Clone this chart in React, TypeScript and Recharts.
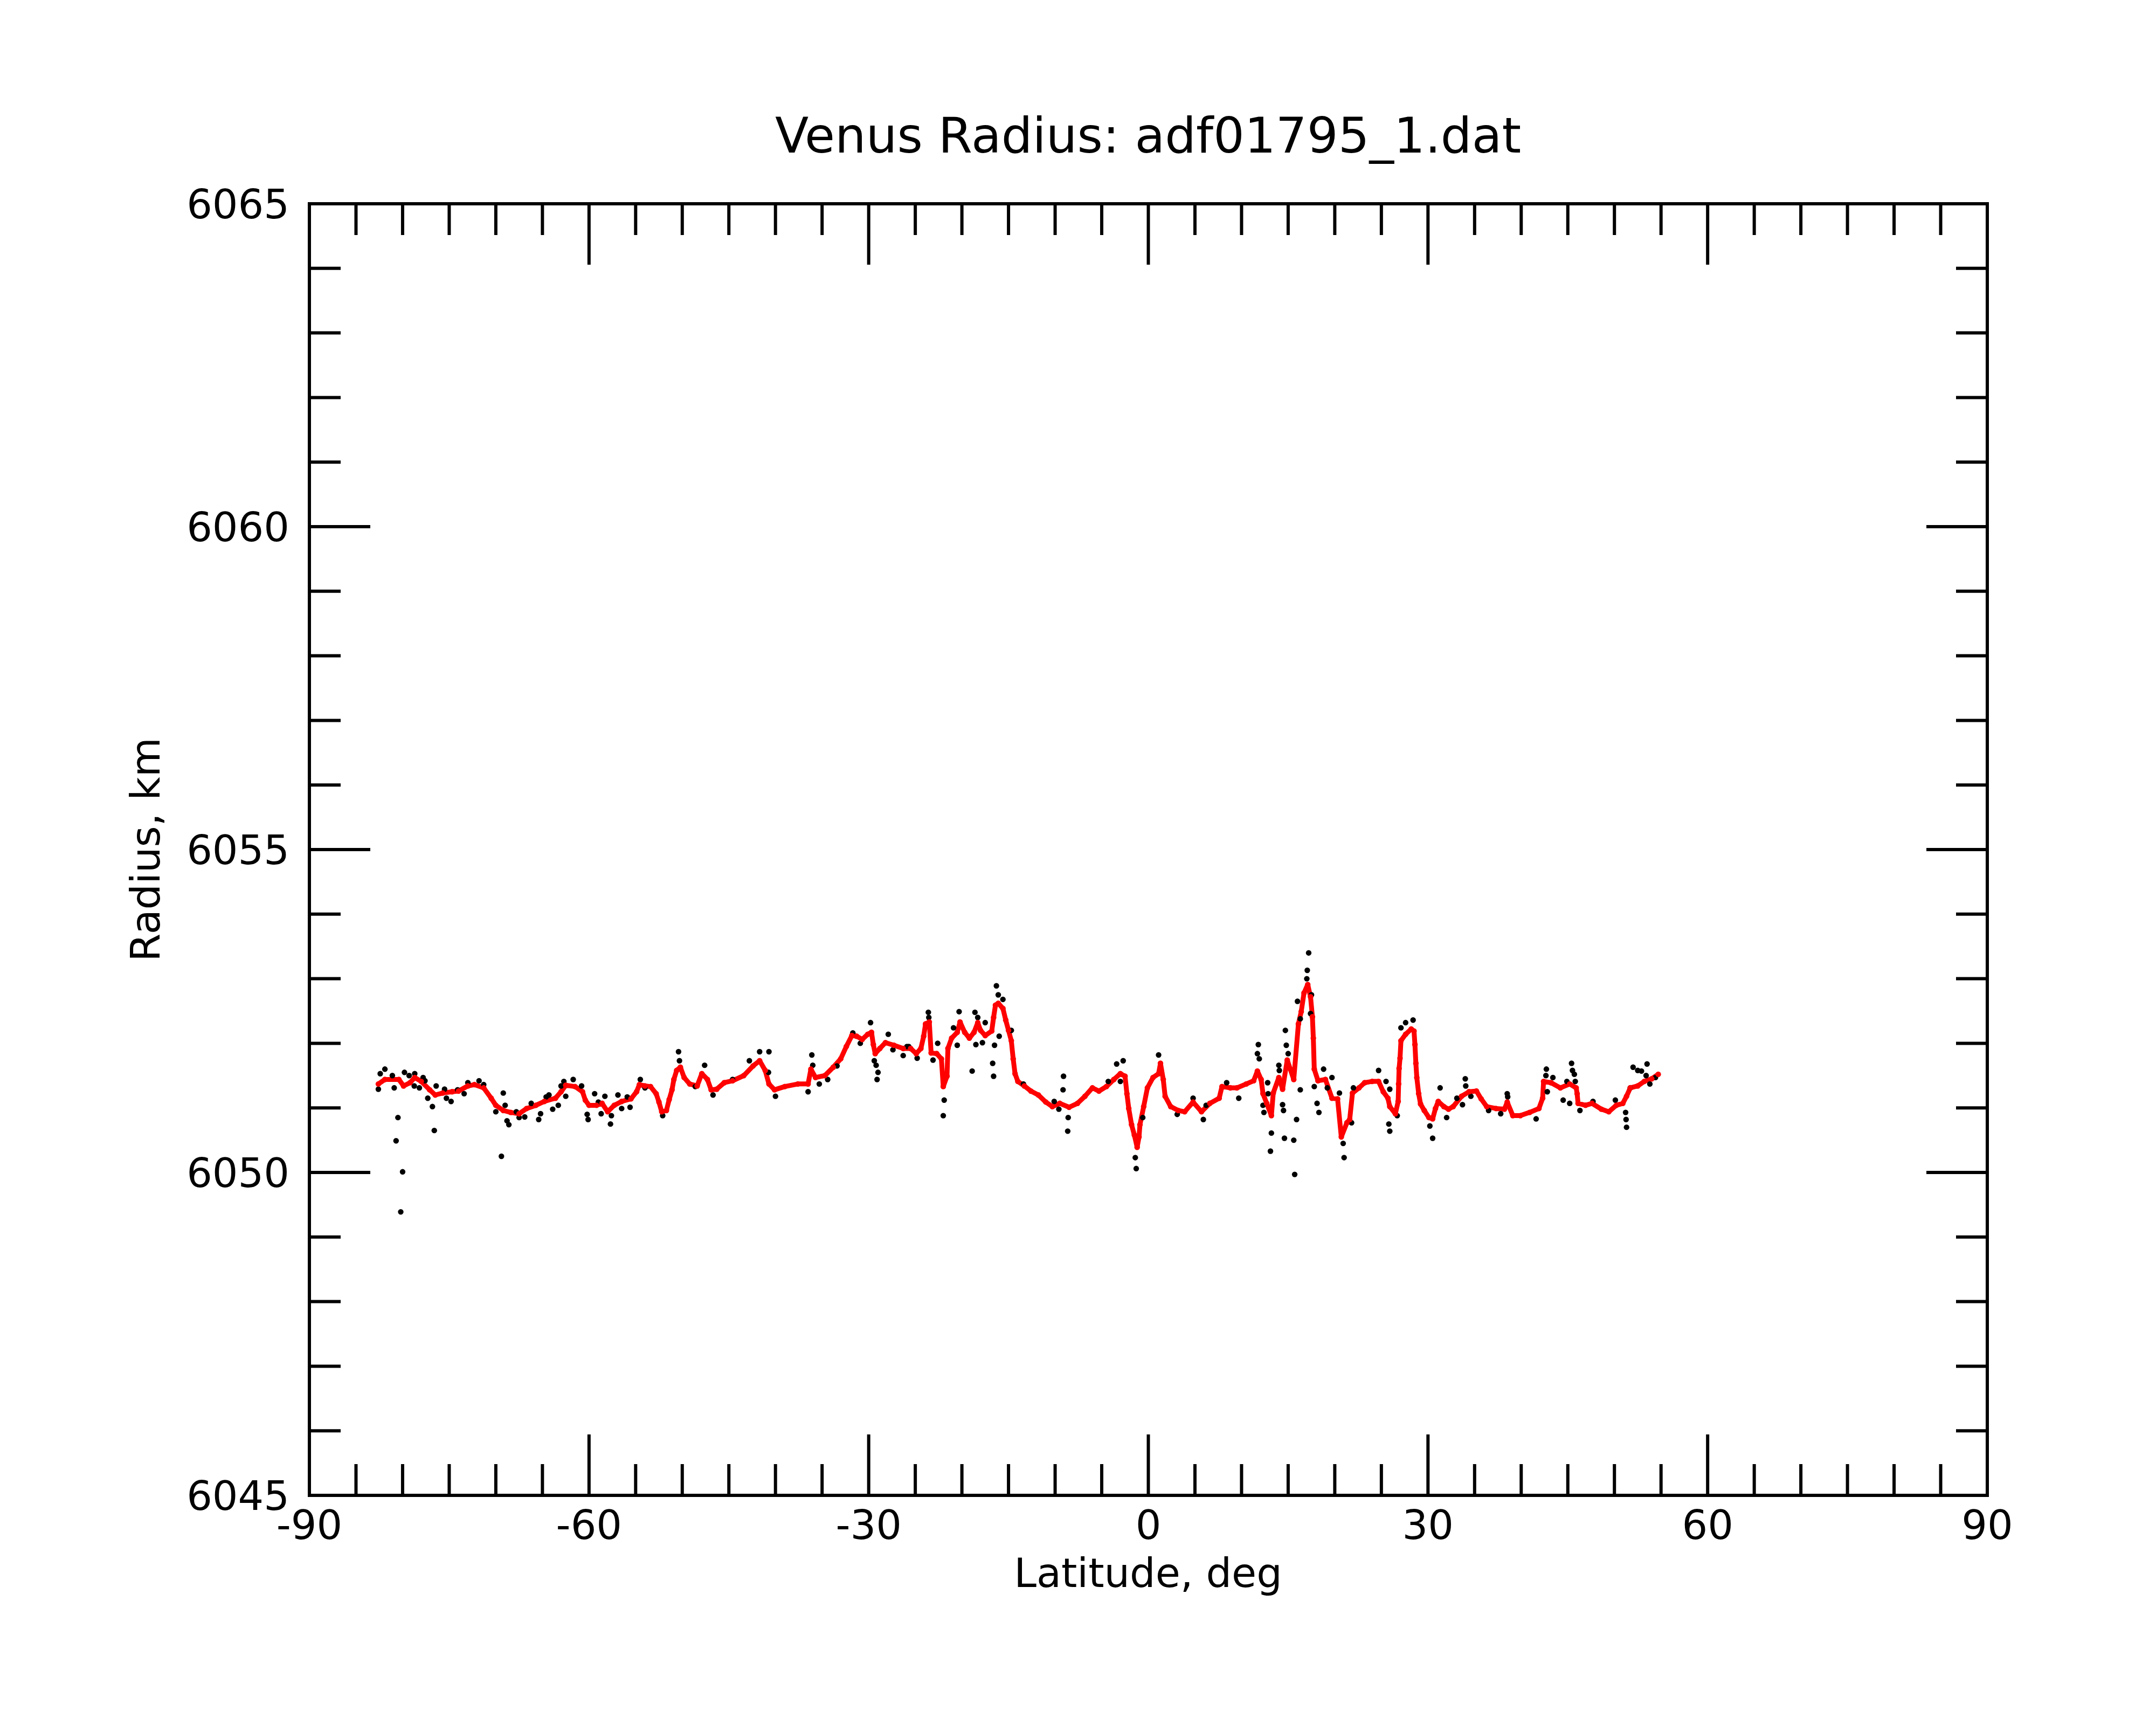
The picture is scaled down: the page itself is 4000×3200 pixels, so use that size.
import React from 'react';
import { ComposedChart, Line, Scatter, XAxis, YAxis } from 'recharts';

// smoothed radius (red)
const redLat = [
  -82.6, -81.9, -80.4, -79.9, -79.2, -78.7, -78.0, -77.1, -76.5, -75.7,
  -74.7, -74.0, -73.0, -72.3, -71.3, -70.5, -70.0, -69.2, -68.4, -67.5,
  -66.7, -65.7, -64.8, -63.6, -63.0, -62.5, -61.5, -60.7, -60.4, -60.0,
  -59.2, -58.6, -58.0, -57.3, -56.5, -55.5, -54.9, -54.6, -54.0, -53.4,
  -52.8, -52.5, -52.2, -51.7, -51.4, -51.1, -50.9, -50.6, -50.2, -49.8,
  -49.2, -48.4, -47.9, -47.3, -46.9, -46.3, -45.5, -44.6, -43.4, -42.4,
  -41.7, -41.1, -40.7, -40.1, -39.0, -37.6, -36.5, -36.2, -35.7, -34.7,
  -33.8, -33.0, -32.4, -31.8, -31.3, -30.7, -30.1, -29.7, -29.5, -29.3,
  -28.8, -28.2, -27.3, -26.3, -25.5, -24.9, -24.4, -24.1, -23.9, -23.5,
  -23.3, -22.7, -22.2, -22.0, -21.6, -21.5, -21.1, -20.5, -20.2, -19.7,
  -19.2, -18.7, -18.3, -18.0, -17.5, -16.8, -16.6, -16.4, -16.1, -15.6,
  -15.3, -15.0, -14.7, -14.5, -14.3, -14.0, -13.3, -12.6, -11.8, -11.0,
  -10.3, -9.5, -8.5, -7.6, -6.8, -6.0, -5.3, -4.5, -3.7, -3.0,
  -2.5, -2.3, -2.1, -1.8, -1.5, -1.2, -1.0, -0.9, -0.5, -0.1,
  0.5, 1.1, 1.3, 1.6, 1.8, 2.4, 3.2, 3.9, 4.8, 5.7,
  6.6, 7.6, 7.9, 8.8, 9.5, 10.5, 11.3, 11.7, 12.1, 12.3,
  12.7, 13.2, 13.4, 14.0, 14.4, 14.9, 15.6, 16.1, 16.4, 16.7,
  17.1, 17.4, 17.6, 17.7, 17.8, 18.2, 19.0, 19.7, 20.3, 20.7,
  21.3, 21.6, 21.9, 22.6, 23.2, 24.0, 24.7, 25.2, 25.7, 25.9,
  26.5, 26.8, 26.85, 26.9, 27.0, 27.1, 27.6, 28.2, 28.5, 28.6,
  28.7, 28.8, 29.0, 29.2, 29.6, 30.1, 30.5, 30.8, 31.1, 31.7,
  32.2, 32.7, 33.6, 34.4, 35.2, 35.7, 36.3, 37.3, 38.2, 38.5,
  39.1, 39.9, 40.9, 41.9, 42.3, 42.4, 43.2, 44.2, 45.2, 45.9,
  46.0, 46.1, 46.9, 47.6, 48.6, 49.4, 50.2, 50.9, 51.3, 51.7,
  52.5, 53.2, 54.0, 54.7,
];
const redRadius = [
  6051.37, 6051.44, 6051.44, 6051.34, 6051.39, 6051.47, 6051.41, 6051.28, 6051.20, 6051.23,
  6051.25, 6051.26, 6051.34, 6051.36, 6051.31, 6051.15, 6051.04, 6050.96, 6050.93, 6050.91,
  6050.99, 6051.04, 6051.10, 6051.15, 6051.25, 6051.35, 6051.33, 6051.25, 6051.12, 6051.04,
  6051.04, 6051.07, 6050.94, 6051.04, 6051.10, 6051.14, 6051.25, 6051.36, 6051.34, 6051.33,
  6051.22, 6051.09, 6050.94, 6050.96, 6051.13, 6051.28, 6051.44, 6051.58, 6051.63, 6051.47,
  6051.37, 6051.34, 6051.53, 6051.44, 6051.28, 6051.29, 6051.39, 6051.42, 6051.50, 6051.65,
  6051.73, 6051.58, 6051.37, 6051.28, 6051.33, 6051.37, 6051.37, 6051.60, 6051.47, 6051.50,
  6051.63, 6051.76, 6051.95, 6052.12, 6052.11, 6052.06, 6052.14, 6052.17, 6051.98, 6051.84,
  6051.92, 6052.01, 6051.97, 6051.92, 6051.92, 6051.84, 6051.92, 6052.11, 6052.30, 6052.33,
  6051.85, 6051.84, 6051.76, 6051.33, 6051.49, 6051.92, 6052.08, 6052.17, 6052.33, 6052.17,
  6052.08, 6052.17, 6052.32, 6052.20, 6052.12, 6052.19, 6052.40, 6052.59, 6052.62, 6052.54,
  6052.36, 6052.20, 6052.04, 6051.76, 6051.53, 6051.41, 6051.34, 6051.26, 6051.20, 6051.09,
  6051.02, 6051.07, 6051.01, 6051.07, 6051.18, 6051.31, 6051.26, 6051.33, 6051.44, 6051.53,
  6051.49, 6051.22, 6050.99, 6050.74, 6050.58, 6050.39, 6050.55, 6050.74, 6051.02, 6051.31,
  6051.47, 6051.53, 6051.69, 6051.44, 6051.18, 6051.02, 6050.96, 6050.94, 6051.09, 6050.94,
  6051.07, 6051.15, 6051.33, 6051.31, 6051.31, 6051.37, 6051.42, 6051.57, 6051.44, 6051.22,
  6051.07, 6050.88, 6051.23, 6051.47, 6051.29, 6051.74, 6051.44, 6052.30, 6052.49, 6052.78,
  6052.91, 6052.72, 6052.41, 6052.08, 6051.60, 6051.42, 6051.44, 6051.15, 6051.14, 6050.55,
  6050.77, 6050.82, 6051.23, 6051.31, 6051.39, 6051.41, 6051.41, 6051.25, 6051.15, 6051.02,
  6050.91, 6051.10, 6051.37, 6051.61, 6051.77, 6052.04, 6052.14, 6052.22, 6052.19, 6051.98,
  6051.69, 6051.47, 6051.22, 6051.06, 6050.96, 6050.85, 6050.83, 6050.99, 6051.10, 6051.02,
  6050.98, 6051.02, 6051.18, 6051.25, 6051.26, 6051.14, 6051.02, 6050.99, 6050.98, 6051.09,
  6050.88, 6050.88, 6050.93, 6050.99, 6051.15, 6051.41, 6051.39, 6051.31, 6051.37, 6051.31,
  6051.22, 6051.07, 6051.04, 6051.07, 6050.98, 6050.94, 6051.04, 6051.07, 6051.18, 6051.31,
  6051.34, 6051.41, 6051.45, 6051.52,
];

// raw radius points (black)
const rawLat = [
  -82.6, -82.4, -81.9, -81.1, -80.9, -80.5, -80.7, -80.0, -80.2, -79.8,
  -79.3, -78.7, -78.75, -78.2, -77.8, -77.6, -77.3, -76.8, -76.6, -76.4,
  -75.5, -75.3, -74.8, -74.1, -73.4, -73.0, -71.8, -71.3, -70.0, -69.2,
  -69.0, -69.4, -68.8, -68.6, -67.8, -67.5, -66.9, -66.2, -65.4, -65.2,
  -64.6, -64.3, -63.9, -63.3, -63.0, -62.7, -62.5, -61.7, -60.8, -60.2,
  -60.1, -59.4, -59.0, -58.7, -58.3, -57.7, -57.6, -56.9, -56.5, -55.9,
  -55.6, -54.5, -54.0, -52.1, -50.4, -50.3, -48.6, -47.6, -46.7, -44.6,
  -42.8, -41.7, -40.7, -40.75, -40.0, -36.5, -36.1, -36.0, -35.3, -34.4,
  -33.4, -31.7, -30.9, -29.8, -29.4, -29.2, -29.0, -29.1, -27.9, -27.4,
  -26.3, -25.9, -25.7, -24.8, -23.6, -23.55, -22.6, -23.1, -21.9, -22.0,
  -20.9, -20.5, -20.3, -18.9, -18.6, -18.3, -18.5, -17.8, -17.5, -16.7,
  -16.6, -16.5, -16.3, -16.1, -15.6, -16.0, -14.7, -13.4, -10.1, -9.6,
  -9.1, -9.15, -8.6, -8.65, -4.3, -3.4, -2.7, -3.0, -0.6, -1.4,
  -1.3, 1.1, 3.1, 4.8, 5.9, 6.2, 8.4, 9.7, 11.8, 11.7,
  11.9, 12.8, 12.85, 12.3, 12.4, 13.2, 13.1, 14.0, 14.05, 14.4,
  14.5, 14.6, 15.6, 15.7, 15.9, 16.3, 14.7, 14.8, 15.0, 16.0,
  16.3, 17.0, 17.05, 17.2, 17.5, 17.4, 17.8, 18.1, 18.3, 18.8,
  19.7, 19.2, 20.5, 20.9, 21.0, 21.8, 22.0, 24.7, 25.5, 25.9,
  25.8, 25.9, 26.7, 27.1, 27.6, 28.4, 30.2, 30.5, 31.3, 32.0,
  33.1, 33.7, 34.0, 34.05, 34.6, 36.5, 37.8, 38.5, 38.55, 41.6,
  42.7, 42.65, 42.8, 43.4, 44.5, 45.2, 44.9, 45.4, 45.5, 45.7,
  45.8, 46.3, 47.7, 50.1, 51.2, 51.25, 51.3, 51.7, 52.0, 52.5,
  52.9, 53.5, 53.4, 53.8, 54.4,
];
const rawRadius = [
  6051.29, 6051.53, 6051.60, 6051.50, 6051.31, 6050.85, 6050.49, 6050.01, 6049.39, 6051.55,
  6051.50, 6051.53, 6051.34, 6051.31, 6051.47, 6051.42, 6051.15, 6051.02, 6050.65, 6051.34,
  6051.29, 6051.15, 6051.10, 6051.28, 6051.22, 6051.39, 6051.42, 6051.36, 6050.94, 6051.23,
  6051.04, 6050.25, 6050.80, 6050.74, 6050.94, 6050.85, 6050.86, 6051.07, 6050.82, 6050.91,
  6051.17, 6051.20, 6050.98, 6051.04, 6051.34, 6051.41, 6051.18, 6051.44, 6051.34, 6050.90,
  6050.82, 6051.22, 6051.09, 6050.91, 6051.18, 6050.75, 6050.88, 6051.20, 6050.99, 6051.17,
  6051.01, 6051.44, 6051.31, 6050.88, 6051.87, 6051.73, 6051.33, 6051.66, 6051.20, 6051.44,
  6051.73, 6051.87, 6051.87, 6051.55, 6051.18, 6051.25, 6051.82, 6051.66, 6051.37, 6051.44,
  6051.65, 6052.16, 6052.00, 6052.32, 6051.73, 6051.66, 6051.55, 6051.44, 6052.14, 6051.90,
  6051.81, 6051.95, 6051.95, 6051.77, 6052.48, 6052.40, 6052.00, 6051.74, 6051.12, 6050.88,
  6052.24, 6051.97, 6052.49, 6051.57, 6052.48, 6052.40, 6051.98, 6052.01, 6052.32, 6051.69,
  6051.49, 6051.97, 6052.89, 6052.75, 6052.68, 6052.11, 6052.20, 6051.37, 6051.10, 6050.98,
  6051.49, 6051.28, 6050.85, 6050.64, 6051.41, 6051.68, 6051.73, 6051.41, 6050.85, 6050.23,
  6050.06, 6051.82, 6050.90, 6051.15, 6050.82, 6051.04, 6051.39, 6051.15, 6051.98, 6051.84,
  6051.76, 6051.39, 6051.22, 6051.04, 6050.93, 6050.61, 6050.33, 6051.66, 6051.58, 6051.05,
  6050.96, 6050.53, 6050.50, 6049.97, 6050.82, 6051.28, 6052.20, 6051.97, 6051.84, 6052.65,
  6052.38, 6053.00, 6053.13, 6053.40, 6052.75, 6052.46, 6051.33, 6051.07, 6050.93, 6051.60,
  6051.47, 6051.31, 6051.23, 6050.45, 6050.23, 6050.77, 6051.31, 6051.58, 6051.41, 6051.29,
  6050.75, 6050.64, 6050.88, 6052.24, 6052.32, 6052.36, 6050.72, 6050.53, 6051.31, 6050.85,
  6051.15, 6051.05, 6051.45, 6051.34, 6051.18, 6050.96, 6050.91, 6051.22, 6051.17, 6050.83,
  6051.60, 6051.50, 6051.25, 6051.47, 6051.12, 6051.07, 6051.41, 6051.69, 6051.58, 6051.52,
  6051.41, 6050.96, 6051.10, 6051.12, 6050.93, 6050.82, 6050.70, 6051.31, 6051.63, 6051.58,
  6051.57, 6051.68, 6051.50, 6051.37, 6051.47,
];

const xTicks = [
  -90, -85, -80, -75, -70, -65, -60, -55, -50, -45, -40, -35, -30, -25, -20, -15, -10, -5,
  0, 5, 10, 15, 20, 25, 30, 35, 40, 45, 50, 55, 60, 65, 70, 75, 80, 85, 90,
];
const xLabels = [-90, -60, -30, 0, 30, 60, 90];
const yTicks = [
  6045, 6046, 6047, 6048, 6049, 6050, 6051, 6052, 6053, 6054, 6055,
  6056, 6057, 6058, 6059, 6060, 6061, 6062, 6063, 6064, 6065,
];
const yLabels = [6045, 6050, 6055, 6060, 6065];

const redData = redLat.map((lat, i) => ({ lat, radius: redRadius[i] }));
const rawData = rawLat.map((lat, i) => ({ lat, radius: rawRadius[i] }));

const FONT = '"DejaVu Sans", sans-serif';
const MAJOR = 113;
const MINOR = 58;
const TW = 6;

const BottomTick = ({ x, y, payload }: any) => {
  const major = xLabels.includes(payload.value);
  return (
    <g>
      <line x1={x} y1={y} x2={x} y2={y - (major ? MAJOR : MINOR)} stroke="#000" strokeWidth={TW} />
      {major && (
        <text x={x} y={y + 81} textAnchor="middle" fontSize={75} fontFamily={FONT} fill="#000">
          {payload.value}
        </text>
      )}
    </g>
  );
};

const TopTick = ({ x, y, payload }: any) => {
  const major = xLabels.includes(payload.value);
  return <line x1={x} y1={y} x2={x} y2={y + (major ? MAJOR : MINOR)} stroke="#000" strokeWidth={TW} />;
};

const LeftTick = ({ x, y, payload }: any) => {
  const major = yLabels.includes(payload.value);
  return (
    <g>
      <line x1={x} y1={y} x2={x + (major ? MAJOR : MINOR)} y2={y} stroke="#000" strokeWidth={TW} />
      {major && (
        <text x={x - 37} y={y + 27} textAnchor="end" fontSize={75} fontFamily={FONT} fill="#000">
          {payload.value}
        </text>
      )}
    </g>
  );
};

const RightTick = ({ x, y, payload }: any) => {
  const major = yLabels.includes(payload.value);
  return <line x1={x} y1={y} x2={x - (major ? MAJOR : MINOR)} y2={y} stroke="#000" strokeWidth={TW} />;
};

const RawDot = (p: any) => <circle cx={p.cx} cy={p.cy} r={5.2} fill="#000" />;

const axisLine = { stroke: '#000', strokeWidth: 6, strokeLinecap: 'square' as const };

const App = () => {
  return (
    <div style={{ position: 'absolute', left: 0, top: 0, width: 4000, height: 3200, background: '#fff' }}>
      <ComposedChart width={4000} height={3200} margin={{ top: 348, right: 0, bottom: 0, left: 0 }}>
        <XAxis
          dataKey="lat"
          type="number"
          domain={[-90, 90]}
          ticks={xTicks}
          interval={0}
          allowDataOverflow
          height={426}
          tickSize={0}
          tickMargin={0}
          tickLine={false}
          axisLine={axisLine}
          tick={<BottomTick />}
        />
        <XAxis
          xAxisId="top"
          dataKey="lat"
          orientation="top"
          type="number"
          domain={[-90, 90]}
          ticks={xTicks}
          interval={0}
          allowDataOverflow
          height={30}
          tickSize={0}
          tickMargin={0}
          tickLine={false}
          axisLine={axisLine}
          tick={<TopTick />}
        />
        <YAxis
          dataKey="radius"
          type="number"
          domain={[6045, 6065]}
          ticks={yTicks}
          interval={0}
          allowDataOverflow
          width={574}
          tickSize={0}
          tickMargin={0}
          tickLine={false}
          axisLine={axisLine}
          tick={<LeftTick />}
        />
        <YAxis
          yAxisId="right"
          orientation="right"
          type="number"
          domain={[6045, 6065]}
          ticks={yTicks}
          interval={0}
          allowDataOverflow
          width={313}
          tickSize={0}
          tickMargin={0}
          tickLine={false}
          axisLine={axisLine}
          tick={<RightTick />}
        />
        <Scatter data={rawData} dataKey="radius" shape={<RawDot />} isAnimationActive={false} />
        <Line
          xAxisId="top"
          data={redData}
          dataKey="radius"
          type="linear"
          stroke="#ff0000"
          strokeWidth={9}
          strokeLinejoin="round"
          dot={{ r: 5.2, fill: '#ff0000', stroke: 'none' }}
          activeDot={false}
          isAnimationActive={false}
        />
      </ComposedChart>
      <svg width={4000} height={3200} style={{ position: 'absolute', left: 0, top: 0, pointerEvents: 'none' }}>
        <text x={2130} y={283} textAnchor="middle" fontSize={91} fontFamily={FONT} fill="#000">
          Venus Radius: adf01795_1.dat
        </text>
        <text x={2130} y={2944} textAnchor="middle" fontSize={75} fontFamily={FONT} fill="#000">
          Latitude, deg
        </text>
        <text
          x={270}
          y={1576}
          textAnchor="middle"
          dominantBaseline="central"
          fontSize={75}
          fontFamily={FONT}
          fill="#000"
          transform="rotate(-90 270 1576)"
        >
          Radius, km
        </text>
      </svg>
    </div>
  );
};

export default App;
